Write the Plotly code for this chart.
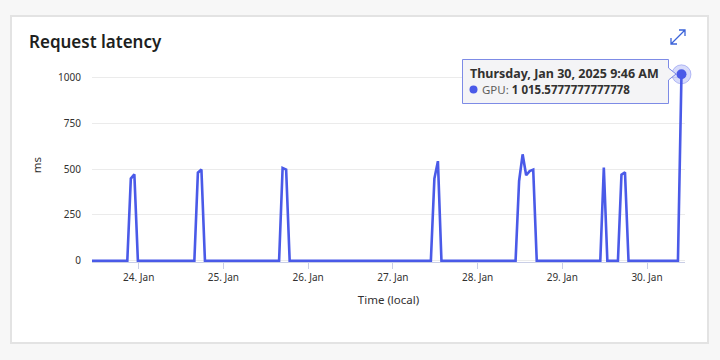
import plotly.graph_objects as go

# ---- data (hourly samples, only vertices where the line changes) ----
times = [
    "2025-01-23 10:46", "2025-01-23 20:46", "2025-01-23 21:46", "2025-01-23 22:46", "2025-01-23 23:46",
    "2025-01-24 15:46", "2025-01-24 16:46", "2025-01-24 17:46", "2025-01-24 18:46",
    "2025-01-25 15:46", "2025-01-25 16:46", "2025-01-25 17:46", "2025-01-25 18:46",
    "2025-01-27 10:46", "2025-01-27 11:46", "2025-01-27 12:46", "2025-01-27 13:46",
    "2025-01-28 10:46", "2025-01-28 11:46", "2025-01-28 12:46", "2025-01-28 13:46",
    "2025-01-28 14:46", "2025-01-28 15:46", "2025-01-28 16:46",
    "2025-01-29 10:46", "2025-01-29 11:46", "2025-01-29 12:46",
    "2025-01-29 15:46", "2025-01-29 16:46", "2025-01-29 17:46", "2025-01-29 18:46",
    "2025-01-30 08:46", "2025-01-30 09:46",
]
gpu_ms = [
    0, 0, 448, 471, 0,
    0, 480, 497, 0,
    0, 506, 497, 0,
    0, 448, 543, 0,
    0, 435, 580, 466,
    489, 497, 0,
    0, 508, 0,
    0, 469, 482, 0,
    0, 1015.5777777777778,
]
y_ticks = [0, 250, 500, 750, 1000]
x_range = ["2025-01-23 10:46", "2025-01-30 10:46"]
series_name = "GPU"
tooltip_title = "Thursday, Jan 30, 2025 9:46 AM"
tooltip_value = "1 015.5777777777778"

BLUE = "#4a5ae8"
FONT = "Segoe UI, Noto Sans, Open Sans, sans-serif"

W, H = 720, 360
ML, MR, MT, MB = 92, 35, 68, 98
PW, PH = W - ML - MR, H - MT - MB


def px(x):
    return (x - ML) / PW


def py(y):
    return (H - MB - y) / PH


fig = go.Figure()
fig.add_trace(go.Scatter(
    x=times, y=gpu_ms, mode="lines", name=series_name,
    line=dict(color=BLUE, width=2.6), hoverinfo="skip",
))
# highlighted last point
fig.add_trace(go.Scatter(
    x=[times[-1]], y=[gpu_ms[-1]], mode="markers", hoverinfo="skip",
    marker=dict(size=19, color="rgba(74,90,232,0.22)",
                line=dict(color="rgba(74,90,232,0.35)", width=1)),
    cliponaxis=False,
))
fig.add_trace(go.Scatter(
    x=[times[-1]], y=[gpu_ms[-1]], mode="markers", hoverinfo="skip",
    marker=dict(size=10, color=BLUE), cliponaxis=False,
))

shapes = []
# card
shapes.append(dict(type="rect", xref="paper", yref="paper",
                   x0=px(11), x1=px(708), y0=py(343), y1=py(16),
                   fillcolor="white", line=dict(color="#e3e3e3", width=2),
                   layer="below"))
# tooltip box with pointer to the right
bx0, bx1, by0, by1 = 462.5, 668.5, 59.5, 103.5
ptx, pty = 676, 74
path = (f"M{px(bx0)},{py(by0)} L{px(bx1)},{py(by0)} L{px(bx1)},{py(pty-6)} "
        f"L{px(ptx)},{py(pty)} L{px(bx1)},{py(pty+6)} L{px(bx1)},{py(by1)} "
        f"L{px(bx0)},{py(by1)} Z")
shapes.append(dict(type="path", xref="paper", yref="paper", path=path,
                   fillcolor="#f4f4f6", line=dict(color="#7d8be6", width=1),
                   layer="above"))
# legend dot in tooltip
shapes.append(dict(type="circle", xref="paper", yref="paper",
                   x0=px(469.5), x1=px(477.5), y0=py(93.5), y1=py(85.5),
                   fillcolor=BLUE, line=dict(width=0), layer="above"))
# expand icon (diagonal double arrow)
ICON = "#3b63d9"
icon_path = (f"M{px(671)},{py(44)} L{px(685)},{py(30)} "
             f"M{px(679)},{py(30)} L{px(685)},{py(30)} L{px(685)},{py(36)} "
             f"M{px(671)},{py(38)} L{px(671)},{py(44)} L{px(677)},{py(44)}")
shapes.append(dict(type="path", xref="paper", yref="paper", path=icon_path,
                   line=dict(color=ICON, width=1.3), layer="above"))

annotations = [
    dict(text="Request latency", xref="paper", yref="paper", x=px(27), y=py(41),
         xanchor="left", yanchor="middle", showarrow=False,
         font=dict(family=FONT, size=17, color="#201f1e", weight=600)),
    dict(text=f"<b>{tooltip_title}</b>", xref="paper", yref="paper", x=px(468), y=py(73.5),
         xanchor="left", yanchor="middle", showarrow=False,
         font=dict(family=FONT, size=12.5, color="#323130")),
    dict(text=f"<span style='color:#605e5c'>{series_name}:</span> <b>{tooltip_value}</b>",
         xref="paper", yref="paper", x=px(480), y=py(89.5),
         xanchor="left", yanchor="middle", showarrow=False,
         font=dict(family=FONT, size=11.5, color="#323130")),
]

fig.update_layout(
    width=W, height=H,
    margin=dict(l=ML, r=MR, t=MT, b=MB),
    paper_bgcolor="#f7f7f7", plot_bgcolor="rgba(0,0,0,0)",
    showlegend=False, shapes=shapes, annotations=annotations,
    font=dict(family=FONT, color="#323130"),
)
fig.update_xaxes(
    type="date", range=x_range, tick0="2025-01-24", dtick=86400000,
    tickformat="%-d. %b", showgrid=False, zeroline=False,
    showline=True, linecolor="#c9cee6", linewidth=1,
    ticks="outside", ticklen=6, tickcolor="#c9cee6",
    tickfont=dict(family=FONT, size=10, color="#323130"),
    title=dict(text="Time (local)", font=dict(family=FONT, size=11.5, color="#323130"), standoff=12),
)
fig.update_yaxes(
    range=[-6, 1050], tickvals=y_ticks, showgrid=True, gridcolor="#ebebeb", gridwidth=1,
    zeroline=False, showline=False, ticks="", ticklabelstandoff=10,
    tickfont=dict(family=FONT, size=10, color="#323130"),
    title=dict(text="ms", font=dict(family=FONT, size=11.5, color="#323130"), standoff=14),
)

fig.write_html(
    "out.html",
    config={"displayModeBar": False},
    post_script="document.body.style.margin='0';document.body.style.background='#f7f7f7';",
)
